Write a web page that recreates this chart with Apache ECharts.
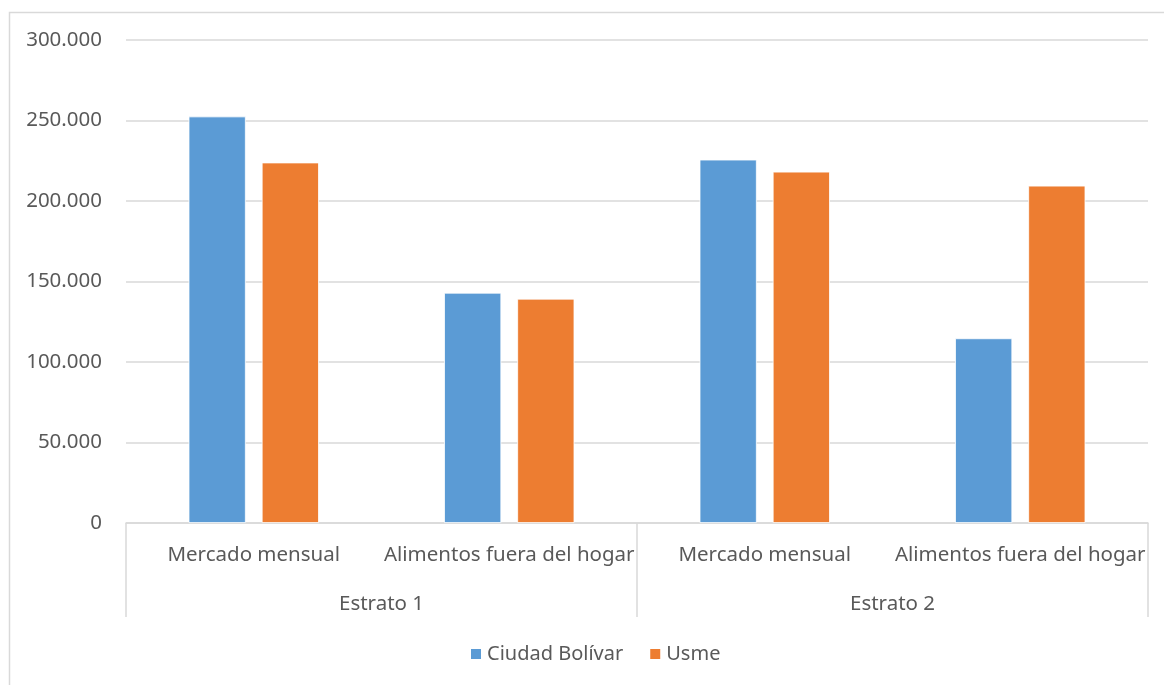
<!DOCTYPE html>
<html>
<head>
<meta charset="utf-8">
<script src="https://cdn.jsdelivr.net/npm/echarts@6/dist/echarts.min.js"></script>
<style>html,body{margin:0;padding:0;background:#fff;}#c{width:1164px;height:685px;}</style>
</head>
<body>
<div id="c"></div>
<script>
const subCategories = ['Mercado mensual', 'Alimentos fuera del hogar', 'Mercado mensual', 'Alimentos fuera del hogar'];
const groups = ['Estrato 1', 'Estrato 2'];
const ciudadBolivar = [252500, 143000, 225700, 114700];
const usme = [223900, 139300, 218200, 209500];
const seriesNames = ['Ciudad Bolívar', 'Usme'];
const yTicks = [0, 50000, 100000, 150000, 200000, 250000, 300000];

const FONT = 'Noto Sans';
const chart = echarts.init(document.getElementById('c'), null, {renderer: 'canvas'});
chart.setOption({
  animation: false,
  textStyle: {fontFamily: FONT},
  graphic: [{
    type: 'rect', left: 7, top: 10, silent: true,
    shape: {width: 1300, height: 800},
    style: {fill: 'none', stroke: '#d9d9d9', lineWidth: 1.5}
  }],
  grid: {left: 126, right: 16, top: 40, bottom: 162},
  legend: {
    left: 464, top: 639, icon: 'rect', itemWidth: 12, itemHeight: 12, itemGap: 25,
    textStyle: {fontFamily: FONT, fontSize: 20, color: '#595959'},
    data: seriesNames
  },
  xAxis: [{
    type: 'category', data: subCategories, position: 'bottom',
    axisLine: {lineStyle: {color: '#d9d9d9', width: 1.5}},
    axisTick: {show: false},
    axisLabel: {interval: 0, margin: 22, fontFamily: FONT, fontSize: 20.5, color: '#595959'}
  }, {
    type: 'category', data: groups, position: 'bottom',
    axisLine: {show: false},
    axisTick: {show: true, length: 94, lineStyle: {color: '#d9d9d9', width: 1.5}},
    axisLabel: {interval: 0, margin: 71, fontFamily: FONT, fontSize: 20.5, color: '#595959'}
  }],
  yAxis: {
    type: 'value', min: yTicks[0], max: yTicks[yTicks.length - 1], interval: 50000,
    axisLine: {show: false}, axisTick: {show: false},
    splitLine: {lineStyle: {color: '#d9d9d9', width: 1.5}},
    axisLabel: {
      margin: 24, fontFamily: FONT, fontSize: 20.5, color: '#595959',
      formatter: v => v === 0 ? '0' : String(v).replace(/\B(?=(\d{3})+(?!\d))/g, '.')
    }
  },
  series: [{
    name: seriesNames[0], type: 'bar', xAxisIndex: 0, data: ciudadBolivar,
    barGap: '28%', barCategoryGap: '49%',
    itemStyle: {color: '#5B9BD5', borderColor: '#ffffff', borderWidth: 0.8}
  }, {
    name: seriesNames[1], type: 'bar', xAxisIndex: 0, data: usme,
    barGap: '28%', barCategoryGap: '49%',
    itemStyle: {color: '#ED7D31', borderColor: '#ffffff', borderWidth: 0.8}
  }]
});
</script>
</body>
</html>
